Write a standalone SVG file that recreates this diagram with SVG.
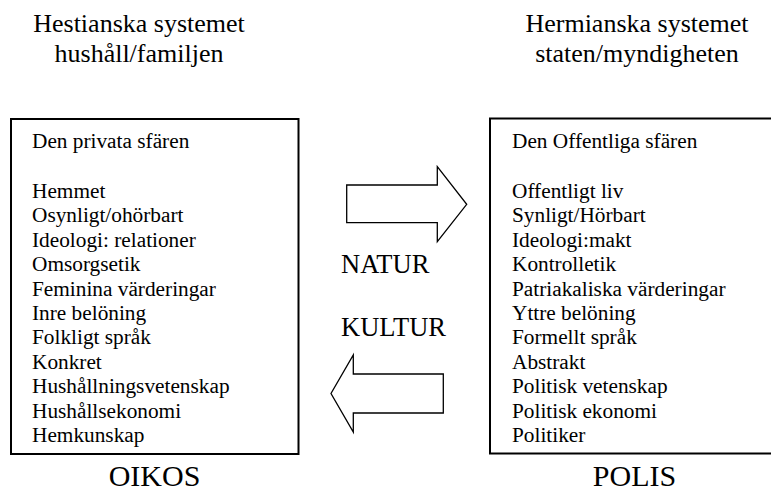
<svg xmlns="http://www.w3.org/2000/svg" width="771" height="494" viewBox="0 0 771 494">
<style>
text{font-family:'Liberation Serif','Times New Roman',Times,'DejaVu Serif',serif;fill:#000}
.title{font-size:26px;text-anchor:middle}
.item{font-size:21.3px}
.label{font-size:26.5px}
.big{font-size:30px;text-anchor:middle}
.box{fill:#fff;stroke:#000;stroke-width:2}
.arrow{fill:#fff;stroke:#000;stroke-width:1.3;stroke-linejoin:miter}
</style>
<rect width="771" height="494" fill="#fff"/>
<g id="oikos" font-family="Liberation Serif, serif">
<text class="title" x="139" y="32">Hestianska systemet</text>
<text class="title" x="139" y="62">hushåll/familjen</text>
<rect class="box" x="11" y="119" width="287.5" height="335"/>
<text class="item" x="32" y="148">Den privata sfären</text>
<text class="item" x="32" y="198">Hemmet</text>
<text class="item" x="32" y="222.4">Osynligt/ohörbart</text>
<text class="item" x="32" y="246.8">Ideologi: relationer</text>
<text class="item" x="32" y="271.2">Omsorgsetik</text>
<text class="item" x="32" y="295.6">Feminina värderingar</text>
<text class="item" x="32" y="320">Inre belöning</text>
<text class="item" x="32" y="344.4">Folkligt språk</text>
<text class="item" x="32" y="368.8">Konkret</text>
<text class="item" x="32" y="393.2">Hushållningsvetenskap</text>
<text class="item" x="32" y="417.6">Hushållsekonomi</text>
<text class="item" x="32" y="442">Hemkunskap</text>
<text class="big" x="154.5" y="486">OIKOS</text>
</g>
<g id="polis" font-family="Liberation Serif, serif">
<text class="title" x="637" y="32">Hermianska systemet</text>
<text class="title" x="637" y="62">staten/myndigheten</text>
<rect class="box" x="490" y="118.5" width="290" height="335"/>
<text class="item" x="512" y="148">Den Offentliga sfären</text>
<text class="item" x="512" y="198">Offentligt liv</text>
<text class="item" x="512" y="222.4">Synligt/Hörbart</text>
<text class="item" x="512" y="246.8">Ideologi:makt</text>
<text class="item" x="512" y="271.2">Kontrolletik</text>
<text class="item" x="512" y="295.6">Patriakaliska värderingar</text>
<text class="item" x="512" y="320">Yttre belöning</text>
<text class="item" x="512" y="344.4">Formellt språk</text>
<text class="item" x="512" y="368.8">Abstrakt</text>
<text class="item" x="512" y="393.2">Politisk vetenskap</text>
<text class="item" x="512" y="417.6">Politisk ekonomi</text>
<text class="item" x="512" y="442">Politiker</text>
<text class="big" x="634.5" y="486">POLIS</text>
</g>
<g id="connectors">
<polygon class="arrow" points="346.7,185 437.3,185 437.3,166.7 466.7,204.3 437.3,241.7 437.3,222.7 346.7,222.7"/>
<text class="label" x="341" y="273">NATUR</text>
<text class="label" x="341" y="335.5">KULTUR</text>
<polygon class="arrow" points="443.3,374 353.3,374 353.3,355 331,393.5 353.3,432 353.3,413 443.3,413"/>
</g>
</svg>
